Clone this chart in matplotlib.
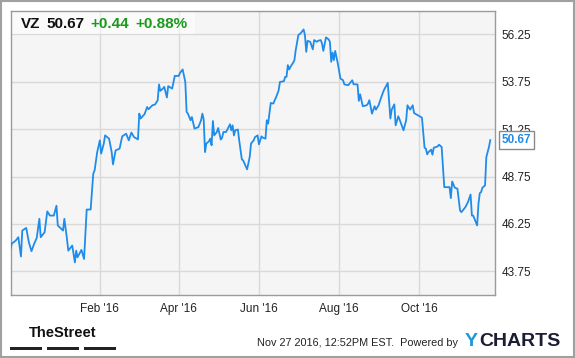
import matplotlib
matplotlib.use("Agg")
import matplotlib.pyplot as plt
import matplotlib.dates as mdates
from matplotlib.patches import Rectangle
import pandas as pd

plt.rcParams["font.family"] = ["Liberation Sans", "DejaVu Sans"]

TICKER = "VZ"
LAST = "50.67"
CHANGE = "+0.44"
CHANGE_PCT = "+0.88%"
STAMP = "Nov 27 2016, 12:52PM EST.  Powered by"

dates = [
    "2015-11-25", "2015-11-26", "2015-11-29", "2015-12-01", "2015-12-03", "2015-12-04",
    "2015-12-07", "2015-12-09", "2015-12-11", "2015-12-13", "2015-12-15", "2015-12-17",
    "2015-12-18", "2015-12-21", "2015-12-23", "2015-12-25", "2015-12-28", "2015-12-30",
    "2015-12-31", "2016-01-04", "2016-01-05", "2016-01-07", "2016-01-08", "2016-01-11",
    "2016-01-13", "2016-01-14", "2016-01-15", "2016-01-18", "2016-01-20", "2016-01-22",
    "2016-01-25", "2016-01-27", "2016-01-28", "2016-01-30", "2016-02-01", "2016-02-02",
    "2016-02-04", "2016-02-05", "2016-02-08", "2016-02-10", "2016-02-11", "2016-02-13",
    "2016-02-16", "2016-02-18", "2016-02-20", "2016-02-21", "2016-02-23", "2016-02-25",
    "2016-02-27", "2016-03-01", "2016-03-02", "2016-03-03", "2016-03-06", "2016-03-08",
    "2016-03-09", "2016-03-12", "2016-03-14", "2016-03-16", "2016-03-17", "2016-03-18",
    "2016-03-20", "2016-03-21", "2016-03-23", "2016-03-24", "2016-03-27", "2016-03-29",
    "2016-04-01", "2016-04-02", "2016-04-04", "2016-04-06", "2016-04-07", "2016-04-08",
    "2016-04-10", "2016-04-11", "2016-04-12", "2016-04-13", "2016-04-16", "2016-04-18",
    "2016-04-19", "2016-04-20", "2016-04-21", "2016-04-22", "2016-04-24", "2016-04-25",
    "2016-04-26", "2016-04-27", "2016-04-28", "2016-04-30", "2016-05-01", "2016-05-03",
    "2016-05-04", "2016-05-05", "2016-05-07", "2016-05-08", "2016-05-10", "2016-05-11",
    "2016-05-12", "2016-05-13", "2016-05-14", "2016-05-16", "2016-05-17", "2016-05-19",
    "2016-05-20", "2016-05-23", "2016-05-25", "2016-05-26", "2016-05-28", "2016-05-29",
    "2016-05-31", "2016-06-01", "2016-06-03", "2016-06-04", "2016-06-06", "2016-06-07",
    "2016-06-08", "2016-06-10", "2016-06-12", "2016-06-13", "2016-06-14", "2016-06-16",
    "2016-06-17", "2016-06-20", "2016-06-21", "2016-06-22", "2016-06-23", "2016-06-24",
    "2016-06-25", "2016-06-27", "2016-06-28", "2016-06-29", "2016-07-01", "2016-07-03",
    "2016-07-05", "2016-07-06", "2016-07-07", "2016-07-08", "2016-07-10", "2016-07-12",
    "2016-07-13", "2016-07-15", "2016-07-16", "2016-07-18", "2016-07-19", "2016-07-20",
    "2016-07-22", "2016-07-24", "2016-07-25", "2016-07-26", "2016-07-27", "2016-07-28",
    "2016-07-29", "2016-07-31", "2016-08-02", "2016-08-04", "2016-08-05", "2016-08-08",
    "2016-08-09", "2016-08-11", "2016-08-12", "2016-08-15", "2016-08-16", "2016-08-17",
    "2016-08-19", "2016-08-22", "2016-08-23", "2016-08-24", "2016-08-26", "2016-08-28",
    "2016-08-29", "2016-08-31", "2016-09-02", "2016-09-04", "2016-09-07", "2016-09-09",
    "2016-09-10", "2016-09-12", "2016-09-13", "2016-09-15", "2016-09-16", "2016-09-19",
    "2016-09-21", "2016-09-22", "2016-09-24", "2016-09-26", "2016-09-27", "2016-09-30",
    "2016-10-03", "2016-10-05", "2016-10-06", "2016-10-07", "2016-10-08", "2016-10-10",
    "2016-10-11", "2016-10-12", "2016-10-15", "2016-10-16", "2016-10-18", "2016-10-20",
    "2016-10-24", "2016-10-25", "2016-10-26", "2016-10-28", "2016-10-30", "2016-11-01",
    "2016-11-02", "2016-11-05", "2016-11-07", "2016-11-09", "2016-11-10", "2016-11-11",
    "2016-11-14", "2016-11-15", "2016-11-16", "2016-11-17", "2016-11-18", "2016-11-20",
    "2016-11-21", "2016-11-23", "2016-11-24",
]

prices = [
    44.93, 45.21, 45.37, 45.55, 44.53, 45.90,
    46.04, 45.28, 44.81, 45.20, 45.51, 46.52,
    45.55, 45.81, 46.91, 46.69, 46.69, 47.21,
    46.17, 45.90, 46.52, 45.46, 44.84, 45.11,
    44.22, 44.84, 44.49, 44.88, 44.40, 47.01,
    47.01, 48.90, 49.07, 50.04, 50.66, 49.96,
    50.49, 50.92, 50.75, 50.04, 49.39, 50.13,
    50.22, 50.87, 50.96, 51.01, 50.66, 51.07,
    50.83, 50.71, 52.07, 51.81, 52.04, 52.42,
    52.30, 52.51, 52.55, 52.78, 53.61, 53.27,
    53.39, 53.48, 52.92, 53.52, 53.39, 54.06,
    54.06, 54.22, 54.40, 53.74, 52.16, 52.07,
    51.72, 51.89, 51.58, 51.28, 51.36, 51.72,
    52.07, 51.76, 50.04, 50.49, 50.61, 50.75,
    50.40, 51.68, 50.92, 51.10, 51.31, 50.70,
    50.80, 51.10, 51.10, 51.23, 51.51, 51.19,
    51.45, 50.92, 51.19, 51.23, 50.66, 49.66,
    49.60, 49.13, 49.78, 50.49, 50.66, 50.83,
    50.92, 50.45, 50.87, 50.80, 50.75, 51.72,
    51.54, 52.63, 52.60, 52.78, 52.92, 53.30,
    53.74, 53.78, 54.01, 54.01, 54.63, 54.40,
    54.54, 54.75, 54.89, 55.42, 56.21, 56.33,
    56.51, 56.21, 55.33, 55.91, 55.86, 55.46,
    55.95, 55.86, 55.91, 55.95, 55.77, 55.38,
    56.09, 55.99, 55.86, 54.80, 55.29, 54.89,
    55.38, 54.72, 53.92, 53.83, 53.61, 53.57,
    53.66, 53.83, 53.62, 53.61, 52.74, 53.09,
    52.46, 52.51, 52.60, 52.78, 52.07, 52.46,
    52.28, 52.51, 52.92, 53.30, 53.69, 51.81,
    52.28, 52.56, 51.45, 51.93, 51.76, 51.19,
    51.72, 52.51, 52.28, 52.51, 52.10, 51.98,
    51.86, 50.27, 50.22, 49.92, 50.04, 50.17,
    49.90, 50.27, 50.34, 50.43, 50.31, 48.19,
    48.19, 47.61, 48.49, 48.16, 48.11, 46.96,
    46.87, 47.13, 47.40, 47.80, 46.69, 46.69,
    46.17, 47.31, 47.87, 47.93, 48.16, 48.28,
    49.78, 50.31, 50.67,
]

y_ticks = [43.75, 46.25, 48.75, 51.25, 53.75, 56.25]
x_ticks = ["2016-02-01", "2016-04-01", "2016-06-01", "2016-08-01", "2016-10-01"]

LINE = "#1f8ceb"
GREEN = "#1a9a1a"
FRAME = "#9a9a9a"

dt = pd.to_datetime(dates)

fig = plt.figure(figsize=(5.75, 3.58), dpi=100)
ax = fig.add_axes([11 / 575, 1 - 295 / 358, 484 / 575, 284.3 / 358])
ax.set_facecolor("#f5f5f5")

ax.plot(dt, prices, color=LINE, linewidth=1.3, solid_joinstyle="round", zorder=3)

ax.set_xlim(pd.Timestamp("2015-11-25 10:00"), pd.Timestamp("2016-11-27 14:00"))
ax.set_ylim(42.5, 57.5)
ax.set_yticks(y_ticks)
ax.yaxis.set_major_formatter(matplotlib.ticker.FormatStrFormatter("%.2f"))
ax.set_xticks(pd.to_datetime(x_ticks))
ax.xaxis.set_major_formatter(mdates.DateFormatter("%b '%y"))
ax.yaxis.tick_right()
ax.tick_params(length=0, labelsize=8.5, colors="#222222")
ax.tick_params(axis="y", pad=5)
ax.tick_params(axis="x", pad=6)
ax.grid(True, color="#d9d9d9", linewidth=1)
ax.set_axisbelow(True)
for s in ax.spines.values():
    s.set_color(FRAME)
    s.set_linewidth(1)

# header box with quote
ax.add_patch(Rectangle((0, 1 - 23.5 / 284.3), 184 / 484, 23.5 / 284.3, transform=ax.transAxes,
                       facecolor="white", alpha=0.5, edgecolor="none", zorder=2))
hy = 1 - 23.5 / 358
fig.text(21 / 575, hy, TICKER, fontsize=11, fontweight="bold", color="#111111", va="center")
fig.text(46 / 575, hy, LAST, fontsize=11, fontweight="bold", color="#111111", va="center")
fig.text(90 / 575, hy, CHANGE, fontsize=11, fontweight="bold", color=GREEN, va="center")
fig.text(135 / 575, hy, CHANGE_PCT, fontsize=11, fontweight="bold", color=GREEN, va="center")

# last value flag
ax.annotate(f"{prices[-1]:.2f}", xy=(1, prices[-1]), xycoords=("axes fraction", "data"),
            xytext=(5, 0), textcoords="offset points", ha="left", va="center",
            fontsize=8.5, fontweight="bold", color=LINE, annotation_clip=False, zorder=6,
            bbox=dict(boxstyle="square,pad=0.25", facecolor="white", edgecolor="#8a8a8a", linewidth=1))

# footer
fig.text(63 / 575, 1 - 333 / 358, "TheStreet", fontsize=10.5, fontweight="bold", color="#111111",
         va="center", ha="center", family=["Liberation Sans Narrow", "Liberation Sans"])
for x0 in (10, 47, 84):
    fig.add_artist(Rectangle((x0 / 575, 1 - 350 / 358), 32 / 575, 3.5 / 358,
                             transform=fig.transFigure, facecolor="#222222", edgecolor="none"))
fig.text(458 / 575, 1 - 343 / 358, STAMP, fontsize=7.8, color="#222222", va="center", ha="right")
fig.text(465 / 575, 1 - 342 / 358, "Y", fontsize=14, fontweight="bold", color="#1a9ad6", va="center")
fig.text(479 / 575, 1 - 342 / 358, "CHARTS", fontsize=14, fontweight="bold", color="#1c1c33", va="center")

fig.add_artist(Rectangle((0.002, 0.003), 0.996, 0.994, transform=fig.transFigure,
                         facecolor="none", edgecolor="#a0a0a0", linewidth=1.5))

fig.savefig("out.png", dpi=100, facecolor="white")
